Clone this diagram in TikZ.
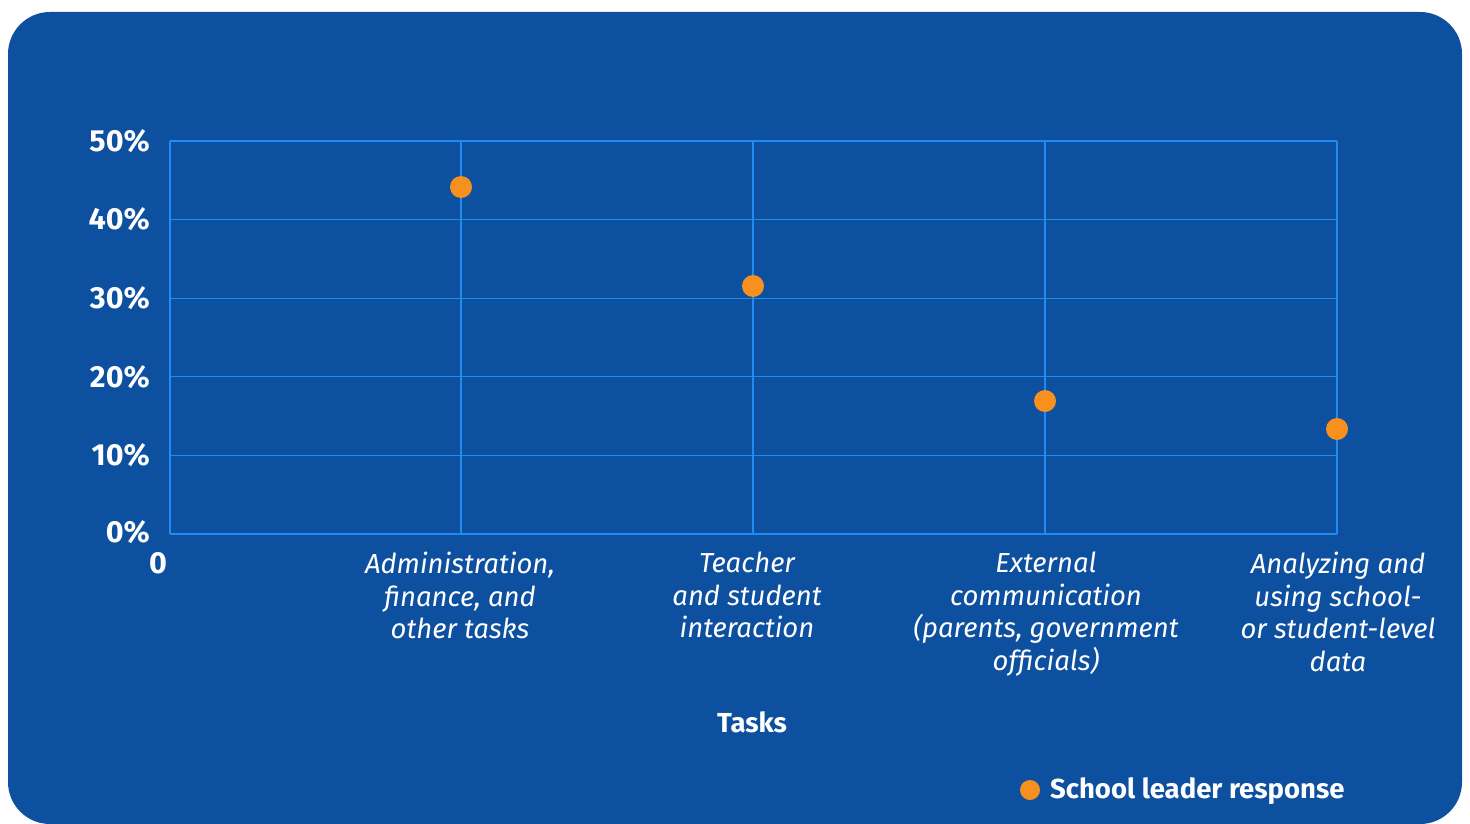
\documentclass[tikz,border=0pt]{standalone}
\usepackage{fontspec}
\setmainfont{Fira Sans}
\definecolor{bgblue}{HTML}{0D50A0}
\definecolor{gridblue}{HTML}{1E8CF0}
\definecolor{dotorange}{HTML}{F7901E}
\begin{document}
\begin{tikzpicture}[x=1pt,y=-1pt,
  gridline/.style={draw=gridblue,line width=1.2pt},
  ylab/.style={text=white,anchor=east,inner sep=0pt,font=\fontsize{30.5}{33}\selectfont\bfseries},
  catlab/.style={text=white,anchor=north,inner sep=0pt,align=center,font=\fontsize{27.5}{32.5}\selectfont\itshape},
  datadot/.style={circle,fill=dotorange,minimum size=22pt,inner sep=0pt},
  boldlab/.style={text=white,inner sep=0pt,font=\fontsize{27.5}{30}\selectfont\bfseries}]
\useasboundingbox (0,0) rectangle (1470,824);
\fill[white] (0,0) rectangle (1470,824);
\fill[bgblue,rounded corners=42pt] (8,12) rectangle (1462,824);
% grid
\foreach \yy in {141,219.6,298.2,376.8,455.4,534}
  \draw[gridline] (170,\yy) -- (1337,\yy);
\foreach \xx in {170,461,753,1045,1337}
  \draw[gridline] (\xx,141) -- (\xx,534);
% y labels
\node[ylab] (y50) at (150,141) {50\%};
\node[ylab] (y40) at (150,219.6) {40\%};
\node[ylab] (y30) at (150,298.2) {30\%};
\node[ylab] (y20) at (150,376.8) {20\%};
\node[ylab] (y10) at (150,455.4) {10\%};
\node[ylab] (y0) at (150,532) {0\%};
\node[ylab,anchor=center] (x0) at (158,563) {0};
% category labels
\node[catlab] (c1) at (460,552) {Administration,\\finance, and\\other tasks};
\node[catlab] (c2) at (747,552) {Teacher\\and student\\interaction};
\node[catlab] (c3) at (1046,552) {External\\communication\\(parents, government\\officials)};
\node[catlab] (c4) at (1338,552) {Analyzing and\\using school-\\or student-level\\data};
% data
\node[datadot] (p1) at (461,187) {};
\node[datadot] (p2) at (753,286) {};
\node[datadot] (p3) at (1045,401) {};
\node[datadot] (p4) at (1337,429) {};
% axis title
\node[boldlab] (tasks) at (752,722) {Tasks};
% legend
\node[datadot,minimum size=20pt] (legdot) at (1030,790) {};
\node[boldlab,anchor=west] (legtext) at (1050,791) {School leader response};
\end{tikzpicture}
\end{document}
